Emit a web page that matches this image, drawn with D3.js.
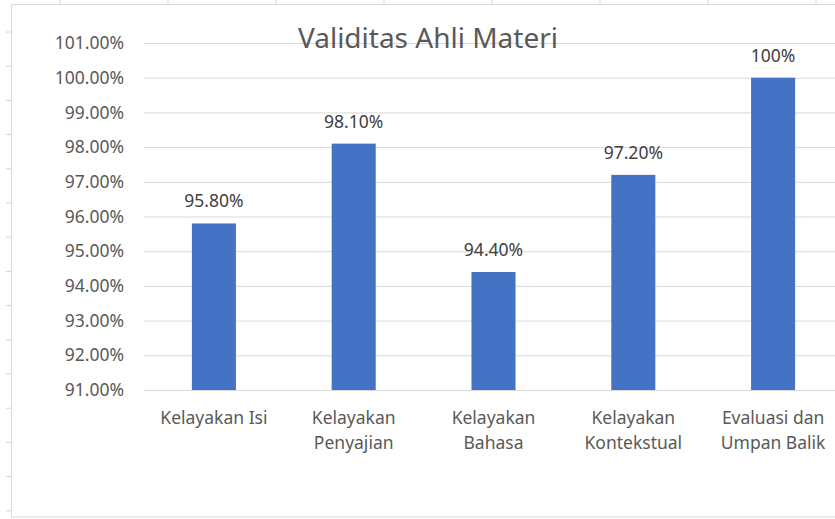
<!DOCTYPE html>
<html>
<head>
<meta charset="utf-8">
<script src="https://cdn.jsdelivr.net/npm/d3@7"></script>
<style>
  body { margin: 0; background: #fff; }
  svg { display: block; }
</style>
</head>
<body>
<svg id="chart" width="835" height="519"></svg>
<script>
// data
var categories = [
  ["Kelayakan Isi"],
  ["Kelayakan", "Penyajian"],
  ["Kelayakan", "Bahasa"],
  ["Kelayakan", "Kontekstual"],
  ["Evaluasi dan", "Umpan Balik"]
];
var values = [95.8, 98.1, 94.4, 97.2, 100];
var valueLabels = ["95.80%", "98.10%", "94.40%", "97.20%", "100%"];
var yTicks = [91, 92, 93, 94, 95, 96, 97, 98, 99, 100, 101];
var chartTitle = "Validitas Ahli Materi";

var font = "'Noto Sans', 'Open Sans', sans-serif";
var labelSize = "17.5px";
var svg = d3.select("#chart");

// spreadsheet cell borders peeking around the chart object
var colLines = d3.range(60, 835, 108);
svg.selectAll(".col").data(colLines).enter().append("line")
    .attr("x1", function(d) { return d; }).attr("x2", function(d) { return d; })
    .attr("y1", 0).attr("y2", 4)
    .attr("stroke", "#d4d4d4");
var rowLines = d3.range(32, 519, 34.2);
svg.selectAll(".row").data(rowLines).enter().append("line")
    .attr("x1", 6).attr("x2", 11)
    .attr("y1", function(d) { return d; }).attr("y2", function(d) { return d; })
    .attr("stroke", "#d4d4d4");

// chart area frame
svg.append("rect")
    .attr("x", 11.5).attr("y", 4.5)
    .attr("width", 840).attr("height", 512.5)
    .attr("fill", "#fff")
    .attr("stroke", "#d9d9d9");

var x = d3.scaleBand()
    .domain(d3.range(categories.length))
    .range([144, 843])
    .paddingInner(0.685)
    .paddingOuter(0.3425);

var y = d3.scaleLinear()
    .domain([91, 101])
    .range([390, 43]);

// gridlines
svg.append("g")
    .attr("transform", "translate(144,0)")
    .call(d3.axisLeft(y).tickValues(yTicks).tickSize(-(843 - 144)).tickFormat(""))
    .call(function(g) {
      g.select(".domain").remove();
      g.selectAll(".tick line").attr("stroke", "#d9d9d9").attr("stroke-width", 1);
    });

// y tick labels
svg.append("g")
    .attr("transform", "translate(124,0)")
    .call(d3.axisLeft(y).tickValues(yTicks).tickSize(0).tickPadding(0)
      .tickFormat(function(d) { return d3.format(".2f")(d) + "%"; }))
    .call(function(g) {
      g.select(".domain").remove();
      g.selectAll("text")
        .attr("fill", "#595959")
        .style("font-size", labelSize)
        .style("font-family", font);
    });

// bars
svg.selectAll(".bar").data(values).enter().append("rect")
    .attr("class", "bar")
    .attr("x", function(d, i) { return x(i); })
    .attr("y", function(d) { return y(d); })
    .attr("width", x.bandwidth())
    .attr("height", function(d) { return y(91) - y(d); })
    .attr("fill", "#4472c4");

// data labels
svg.selectAll(".lbl").data(values).enter().append("text")
    .attr("x", function(d, i) { return x(i) + x.bandwidth() / 2; })
    .attr("y", function(d) { return y(d) - 16; })
    .attr("text-anchor", "middle")
    .attr("fill", "#404040")
    .style("font-size", labelSize)
    .style("font-family", font)
    .text(function(d, i) { return valueLabels[i]; });

// category labels
var cat = svg.selectAll(".cat").data(categories).enter().append("text")
    .attr("text-anchor", "middle")
    .attr("fill", "#595959")
    .style("font-size", labelSize)
    .style("font-family", font)
    .attr("transform", function(d, i) {
      return "translate(" + (x(i) + x.bandwidth() / 2) + ",424)";
    });
cat.selectAll("tspan").data(function(d) { return d; }).enter().append("tspan")
    .attr("x", 0)
    .attr("y", function(d, i) { return i * 24.5; })
    .text(function(d) { return d; });

// title
svg.append("text")
    .attr("x", 428).attr("y", 48)
    .attr("text-anchor", "middle")
    .attr("fill", "#595959")
    .style("font-size", "28px")
    .style("font-family", font)
    .text(chartTitle);
</script>
</body>
</html>
